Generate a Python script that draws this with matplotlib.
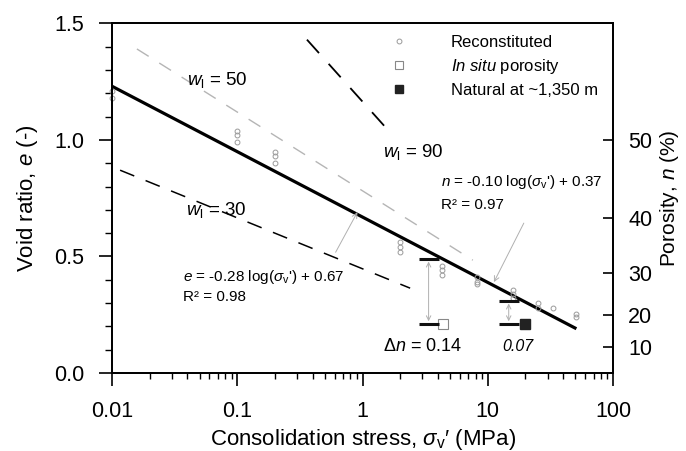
import numpy as np
import matplotlib
matplotlib.use("Agg")
from matplotlib import pyplot as plt
from matplotlib.lines import Line2D
from matplotlib.ticker import FixedLocator, LogLocator, NullFormatter

plt.rcParams['font.family'] = ['Liberation Sans', 'DejaVu Sans']
plt.rcParams['mathtext.fontset'] = 'custom'
plt.rcParams['mathtext.rm'] = 'Liberation Sans'
plt.rcParams['mathtext.it'] = 'Liberation Sans:italic'

# reconstituted samples (stress in MPa, void ratio)
recon_sigma = [0.01, 0.01, 0.1, 0.1, 0.1, 0.2, 0.2, 0.2, 2, 2, 2, 4.3, 4.3, 4.3,
               8.2, 8.2, 8.2, 16, 16, 16, 25, 25, 33, 51, 51]
recon_e = [1.21, 1.18, 1.04, 1.02, 0.99, 0.95, 0.93, 0.90, 0.56, 0.54, 0.52,
           0.46, 0.44, 0.42, 0.41, 0.39, 0.38, 0.355, 0.34, 0.32, 0.30, 0.28,
           0.28, 0.255, 0.24]

insitu_sigma = [4.37]
insitu_e = [0.21]
natural_sigma = [19.8]
natural_e = [0.21]

# fitted compression line
fit_sigma = [0.01, 51]
fit_e = [1.23, 0.19]

# liquid limit reference lines
wl90_sigma = [0.36, 1.55]
wl90_e = [1.43, 1.05]
wl50_sigma = [0.0158, 7.6]
wl50_e = [1.39, 0.484]
wl30_sigma = [0.0116, 2.4]
wl30_e = [0.87, 0.364]

# porosity drop markers
dn_sigma = [3.37, 14.7]
dn_top = [0.49, 0.31]
dn_bot = [0.21, 0.21]

porosity_ticks = [10, 20, 30, 40, 50]

fig = plt.figure(figsize=(6.86, 4.51), dpi=100)
ax = fig.add_axes([0.1633, 0.1729, 0.7303, 0.7754])

ax.plot(wl50_sigma, wl50_e, color='#b5b5b5', lw=1.0, dashes=(10, 9))
ax.plot(wl90_sigma, wl90_e, color='black', lw=1.3, dashes=(10, 8))
ax.plot(wl30_sigma, wl30_e, color='black', lw=1.1, dashes=(10, 8))
ax.plot(fit_sigma, fit_e, color='black', lw=2.3, solid_capstyle='butt')

ax.plot(recon_sigma, recon_e, 'o', ms=3.5, mfc='none', mec='#9a9a9a', mew=0.7,
        clip_on=False)
ax.plot(insitu_sigma, insitu_e, 's', ms=7, mfc='white', mec='#888888', mew=0.8)
ax.plot(natural_sigma, natural_e, 's', ms=7, mfc='#222222', mec='#222222')

ax.plot(dn_sigma, dn_top, '_', ms=14, mew=2.2, color='#111111')
ax.plot(dn_sigma, dn_bot, '_', ms=14, mew=2.2, color='#111111')
for s, t, b in zip(dn_sigma, dn_top, dn_bot):
    ax.annotate('', xy=(s, b), xytext=(s, t),
                arrowprops=dict(arrowstyle='<->', color='#b0b0b0', lw=0.7,
                                shrinkA=2, shrinkB=2, mutation_scale=8))

ax.annotate('', xy=(0.91, 0.69), xytext=(0.61, 0.518),
            arrowprops=dict(arrowstyle='->', color='#b0b0b0', lw=0.7,
                            shrinkA=0, shrinkB=0, mutation_scale=9))
ax.annotate('', xy=(11.2, 0.39), xytext=(19.4, 0.643),
            arrowprops=dict(arrowstyle='->', color='#b0b0b0', lw=0.7,
                            shrinkA=0, shrinkB=0, mutation_scale=9))

ax.text(0.04, 1.256, r'$w_\mathrm{l}$ = 50', fontsize=13.5, va='center')
ax.text(1.47, 0.947, r'$w_\mathrm{l}$ = 90', fontsize=13.5, va='center')
ax.text(0.039, 0.70, r'$w_\mathrm{l}$ = 30', fontsize=13.5, va='center')
ax.text(0.037, 0.41, r"$e$ = -0.28 log($\sigma_\mathrm{v}$') + 0.67", fontsize=11,
        va='center')
ax.text(0.037, 0.325, 'R² = 0.98', fontsize=11, va='center')
ax.text(4.2, 0.818, r"$n$ = -0.10 log($\sigma_\mathrm{v}$') + 0.37", fontsize=11,
        va='center')
ax.text(4.2, 0.72, 'R² = 0.97', fontsize=11, va='center')
ax.text(1.47, 0.115, r'$\Delta n$ = 0.14', fontsize=13, va='center')
ax.text(17.4, 0.115, '0.07', fontsize=11.5, style='italic', va='center',
        ha='center')

ax.set_xscale('log')
ax.set_xlim(0.01, 100)
ax.set_ylim(0, 1.5)
ax.set_xticks([0.01, 0.1, 1, 10, 100])
ax.set_xticklabels(['0.01', '0.1', '1', '10', '100'])
ax.xaxis.set_minor_locator(LogLocator(base=10, subs=np.arange(2, 10)))
ax.xaxis.set_minor_formatter(NullFormatter())
ax.set_yticks([0, 0.5, 1.0, 1.5])
ax.set_yticklabels(['0.0', '0.5', '1.0', '1.5'])
ax.yaxis.set_minor_locator(FixedLocator(np.arange(0, 1.51, 0.1)))
ax.tick_params(which='major', direction='out', length=9.5, width=1.2,
               labelsize=15.5, pad=10.5)
ax.tick_params(which='minor', direction='out', length=5, width=1.0)
ax.tick_params(axis='x', which='major', length=9, pad=11)
ax.tick_params(axis='x', which='minor', length=4)
for sp in ax.spines.values():
    sp.set_linewidth(1.3)

ax.set_xlabel(r"Consolidation stress, $\sigma_\mathrm{v}$′ (MPa)", fontsize=16,
              labelpad=4)
ax.set_ylabel(r'Void ratio, $e$ (-)', fontsize=16, labelpad=10)

ax2 = ax.twinx()
ax2.set_ylim(0, 1.5)
n = np.array(porosity_ticks) / 100.0
ax2.set_yticks(n / (1 - n))
ax2.set_yticklabels([str(p) for p in porosity_ticks])
ax2.tick_params(direction='in', length=7, width=1.2, labelsize=15.5, pad=11)
ax2.set_ylabel(r'Porosity, $n$ (%)', fontsize=15, labelpad=4)
for sp in ax2.spines.values():
    sp.set_linewidth(1.3)

handles = [
    Line2D([], [], ls='none', marker='o', ms=3.5, mfc='none', mec='#9a9a9a', mew=0.7),
    Line2D([], [], ls='none', marker='s', ms=6, mfc='white', mec='#888888', mew=0.8),
    Line2D([], [], ls='none', marker='s', ms=6, mfc='#222222', mec='#222222'),
]
labels = ['Reconstituted', r'$\it{In\ situ}$ porosity', 'Natural at ~1,350 m']
ax.legend(handles, labels, loc='upper left', bbox_to_anchor=(0.533, 1.0),
          frameon=False, fontsize=12, handlelength=1.0, handletextpad=2.6,
          labelspacing=0.42, borderaxespad=0.3)

fig.savefig('out.png', dpi=100)
